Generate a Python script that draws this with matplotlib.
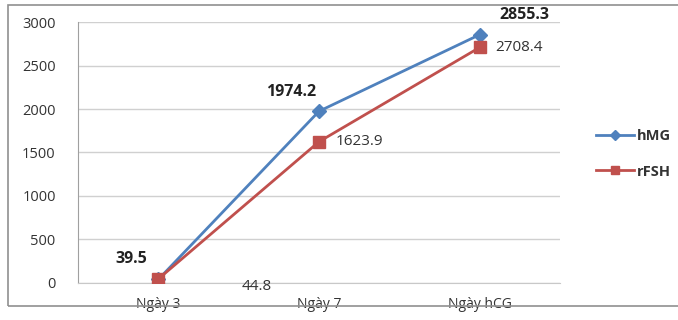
import matplotlib.pyplot as plt
from matplotlib.patches import Rectangle

plt.rcParams['font.family'] = ['Open Sans', 'DejaVu Sans']

categories = ['Ngày 3', 'Ngày 7', 'Ngày hCG']
hmg = [39.5, 1974.2, 2855.3]
rfsh = [44.8, 1623.9, 2708.4]
yticks = [0, 500, 1000, 1500, 2000, 2500, 3000]

blue = '#4F81BD'
red = '#C0504D'

fig = plt.figure(figsize=(6.78, 3.20), dpi=100)
ax = fig.add_axes([0.115, 0.116, 0.711, 0.815])

x = range(len(categories))
ax.plot(x, hmg, color=blue, lw=2, marker='D', ms=7, label='hMG', zorder=3)
ax.plot(x, rfsh, color=red, lw=2, marker='s', ms=9, label='rFSH', zorder=4)

ax.set_xlim(-0.5, 2.5)
ax.set_ylim(0, 3000)
ax.set_yticks(yticks)
ax.set_xticks(list(x))
ax.set_xticklabels(categories)
ax.grid(axis='y', color='#d0d0d0', lw=1)
ax.set_axisbelow(True)
for s in ['top', 'right']:
    ax.spines[s].set_visible(False)
ax.spines['left'].set_color('#a0a0a0')
ax.spines['bottom'].set_color('#c8c8c8')
ax.tick_params(axis='both', length=0, labelsize=10.5, colors='#333333')
ax.tick_params(axis='x', pad=10, labelsize=10)
ax.tick_params(axis='y', pad=16)

# data labels (hMG bold, rFSH normal)
lab_hmg = [(-27, 20), (-28, 19), (45, 20)]
lab_rfsh = [(98, -8), (40, 0), (39, 0)]
for i in x:
    ax.annotate(f'{hmg[i]:.1f}', (i, hmg[i]), xytext=lab_hmg[i], textcoords='offset pixels',
                ha='center', va='center', fontsize=11.5, fontweight='bold', color='#222222')
    ax.annotate(f'{rfsh[i]:.1f}', (i, rfsh[i]), xytext=lab_rfsh[i], textcoords='offset pixels',
                ha='center', va='center', fontsize=11, color='#333333', annotation_clip=False)

leg = fig.legend(loc='center left', bbox_to_anchor=(0.86, 0.52), frameon=False,
                 handlelength=2.6, handletextpad=0.2, labelspacing=1.5, markerscale=0.7,
                 prop={'family': ['Open Sans', 'DejaVu Sans'], 'weight': 'bold', 'size': 10.5})
for t in leg.get_texts():
    t.set_color('#333333')

fig.patches.append(Rectangle((8 / 678, 1 - 306 / 320), 1.0, (306 - 5) / 320,
                             transform=fig.transFigure, fill=False,
                             edgecolor='#909090', lw=1.2))

fig.savefig('out.png', dpi=100)
